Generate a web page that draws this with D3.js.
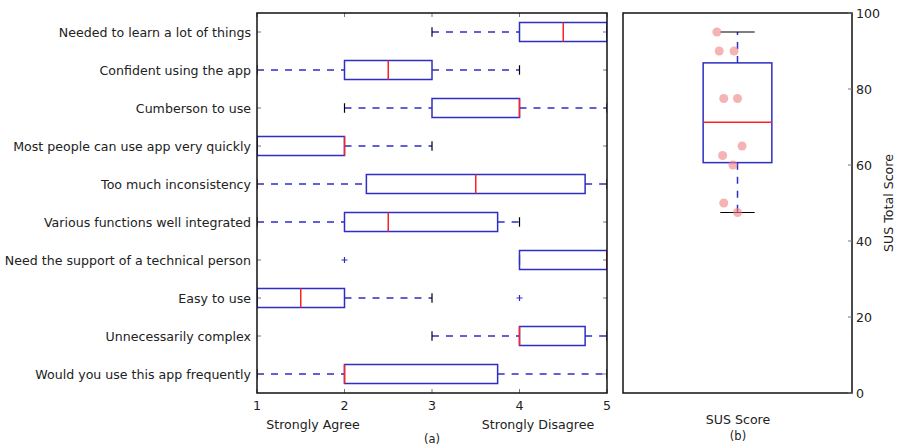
<!DOCTYPE html>
<html><head><meta charset="utf-8">
<script src="https://cdn.jsdelivr.net/npm/d3@7"></script>
<style>body{margin:0;background:#fff}svg{display:block}text{font-family:"DejaVu Sans",sans-serif;fill:#222}</style>
</head><body><svg id="c" width="899" height="447"></svg>
<script>
// Questions, top to bottom
const questions = ["Needed to learn a lot of things","Confident using the app","Cumberson to use","Most people can use app very quickly","Too much inconsistency","Various functions well integrated","Need the support of a technical person","Easy to use","Unnecessarily complex","Would you use this app frequently"];
const whiskerLow  = [3, 1, 2, 1, 1,    1, 4, 1,   3, 1];
const quart1      = [4, 2, 3, 1, 2.25, 2, 4, 1,   4, 2];
const medians     = [4.5, 2.5, 4, 2, 3.5, 2.5, 5, 1.5, 4, 2];
const quart3      = [5, 3, 4, 2, 4.75, 3.75, 5, 2, 4.75, 3.75];
const whiskerHigh = [5, 4, 5, 3, 5,    4, 5, 3,   5, 5];
const outliers    = [[], [], [], [], [], [], [2], [4], [], []];
const xTicks = [1, 2, 3, 4, 5];
// SUS scores and horizontal jitter (data units around position 1)
const susScores = [95, 90, 90, 77.5, 77.5, 65, 62.5, 60, 50, 47.5];
const susJitter = [0.91, 0.92, 0.985, 0.94, 1.0, 1.02, 0.935, 0.98, 0.94, 1.0];
const susTicks = [0, 20, 40, 60, 80, 100];

const svg = d3.select("#c");
const BLUE = "#2e2ec4", RED = "#ff2020";
const FS = 12.6;

svg.append("defs").append("clipPath").attr("id", "clipL").append("rect").attr("x", 257).attr("y", 13).attr("width", 350).attr("height", 380);

// ---------- Left panel ----------
const L = {x0: 257, x1: 607, y0: 13, y1: 393};
const x = d3.scaleLinear().domain([1, 5]).range([L.x0, L.x1]);
const pos = questions.map((q, i) => questions.length - i); // top = 10
const y = d3.scaleLinear().domain([0.5, 10.5]).range([L.y1, L.y0]);
const bh = (y(0) - y(0.5)); // box height (0.5 units)
const g = svg.append("g");
const gc = g.append("g").attr("clip-path", "url(#clipL)");
const rows = questions.map((q, i) => ({q, p: pos[i], wl: whiskerLow[i], q1: quart1[i], med: medians[i], q3: quart3[i], wh: whiskerHigh[i], out: outliers[i]}));

rows.forEach(r => {
  const yy = y(r.p);
  if (r.q1 > r.wl) gc.append("line").attr("x1", x(r.wl)).attr("x2", x(r.q1)).attr("y1", yy).attr("y2", yy).attr("stroke", BLUE).attr("stroke-width", 1.5).attr("stroke-dasharray", "7,7");
  if (r.wh > r.q3) gc.append("line").attr("x1", x(r.q3)).attr("x2", x(r.wh)).attr("y1", yy).attr("y2", yy).attr("stroke", BLUE).attr("stroke-width", 1.5).attr("stroke-dasharray", "7,7");
  [r.wl, r.wh].forEach(v => gc.append("line").attr("x1", x(v)).attr("x2", x(v)).attr("y1", yy - bh / 4).attr("y2", yy + bh / 4).attr("stroke", "#000").attr("stroke-width", 1.2));
  gc.append("rect").attr("x", x(r.q1)).attr("y", yy - bh / 2).attr("width", x(r.q3) - x(r.q1)).attr("height", bh).attr("fill", "none").attr("stroke", BLUE).attr("stroke-width", 1.5);
  gc.append("line").attr("x1", x(r.med)).attr("x2", x(r.med)).attr("y1", yy - bh / 2).attr("y2", yy + bh / 2).attr("stroke", RED).attr("stroke-width", 1.5);
  r.out.forEach(v => {
    gc.append("path").attr("d", `M${x(v) - 3},${yy}h6M${x(v)},${yy - 3}v6`).attr("stroke", BLUE).attr("stroke-width", 1.2);
  });
});
xTicks.forEach(t => {
  g.append("line").attr("x1", x(t)).attr("x2", x(t)).attr("y1", L.y0).attr("y2", L.y0 + 4).attr("stroke", "#777");
  g.append("line").attr("x1", x(t)).attr("x2", x(t)).attr("y1", L.y1).attr("y2", L.y1 - 4).attr("stroke", "#777");
  g.append("text").attr("x", x(t)).attr("y", 410).attr("text-anchor", "middle").attr("font-size", FS).text(t);
});
rows.forEach(r => {
  const yy = y(r.p);
  g.append("line").attr("x1", L.x0).attr("x2", L.x0 + 4).attr("y1", yy).attr("y2", yy).attr("stroke", "#777");
  g.append("line").attr("x1", L.x1).attr("x2", L.x1 - 4).attr("y1", yy).attr("y2", yy).attr("stroke", "#777");
  g.append("text").attr("x", 251).attr("y", yy + 4.5).attr("text-anchor", "end").attr("font-size", FS).text(r.q);
});
g.append("rect").attr("x", L.x0).attr("y", L.y0).attr("width", L.x1 - L.x0).attr("height", L.y1 - L.y0).attr("fill", "none").attr("stroke", "#111").attr("stroke-width", 1.5);
g.append("text").attr("x", 313).attr("y", 429).attr("text-anchor", "middle").attr("font-size", FS).text("Strongly Agree");
g.append("text").attr("x", 538).attr("y", 429).attr("text-anchor", "middle").attr("font-size", FS).text("Strongly Disagree");
g.append("text").attr("x", 432).attr("y", 443).attr("text-anchor", "middle").attr("font-size", 11.5).text("(a)");

// ---------- Right panel ----------
const R = {x0: 623, x1: 852, y0: 13, y1: 393};
const rx = d3.scaleLinear().domain([0.5, 1.5]).range([R.x0, R.x1]);
const ry = d3.scaleLinear().domain([0, 100]).range([R.y1, R.y0]);
const h = svg.append("g");
const sorted = susScores.slice().sort(d3.ascending);
const sq1 = d3.quantile(sorted, 0.25), smed = d3.quantile(sorted, 0.5), sq3 = d3.quantile(sorted, 0.75);
const slo = d3.min(sorted), shi = d3.max(sorted);
const bw = (rx(1.15) - rx(0.85));
const cx = rx(1);
h.append("line").attr("x1", cx).attr("x2", cx).attr("y1", ry(sq3)).attr("y2", ry(shi)).attr("stroke", BLUE).attr("stroke-width", 1.5).attr("stroke-dasharray", "7,7");
h.append("line").attr("x1", cx).attr("x2", cx).attr("y1", ry(sq1)).attr("y2", ry(slo)).attr("stroke", BLUE).attr("stroke-width", 1.5).attr("stroke-dasharray", "7,7");
[slo, shi].forEach(v => h.append("line").attr("x1", cx - bw / 4).attr("x2", cx + bw / 4).attr("y1", ry(v)).attr("y2", ry(v)).attr("stroke", "#000").attr("stroke-width", 1.2));
h.append("rect").attr("x", cx - bw / 2).attr("y", ry(sq3)).attr("width", bw).attr("height", ry(sq1) - ry(sq3)).attr("fill", "none").attr("stroke", BLUE).attr("stroke-width", 1.5);
h.append("line").attr("x1", cx - bw / 2).attr("x2", cx + bw / 2).attr("y1", ry(smed)).attr("y2", ry(smed)).attr("stroke", RED).attr("stroke-width", 1.5);
h.selectAll("circle.p").data(susScores).join("circle").attr("class", "p")
  .attr("cx", (d, i) => rx(susJitter[i])).attr("cy", d => ry(d)).attr("r", 4.5)
  .attr("fill", "#f08080").attr("fill-opacity", 0.6);
h.append("rect").attr("x", R.x0).attr("y", R.y0).attr("width", R.x1 - R.x0).attr("height", R.y1 - R.y0).attr("fill", "none").attr("stroke", "#111").attr("stroke-width", 1.5);
susTicks.forEach(t => {
  h.append("line").attr("x1", R.x1 - 4).attr("x2", R.x1).attr("y1", ry(t)).attr("y2", ry(t)).attr("stroke", "#777");
  h.append("text").attr("x", 856).attr("y", ry(t) + 4.5).attr("font-size", FS).text(t);
});
h.append("text").attr("transform", `translate(893,${(R.y0 + R.y1) / 2}) rotate(-90)`).attr("text-anchor", "middle").attr("font-size", FS).text("SUS Total Score");
h.append("text").attr("x", 738).attr("y", 424).attr("text-anchor", "middle").attr("font-size", FS).text("SUS Score");
h.append("text").attr("x", 738).attr("y", 440).attr("text-anchor", "middle").attr("font-size", 11.5).text("(b)");
</script></body></html>
